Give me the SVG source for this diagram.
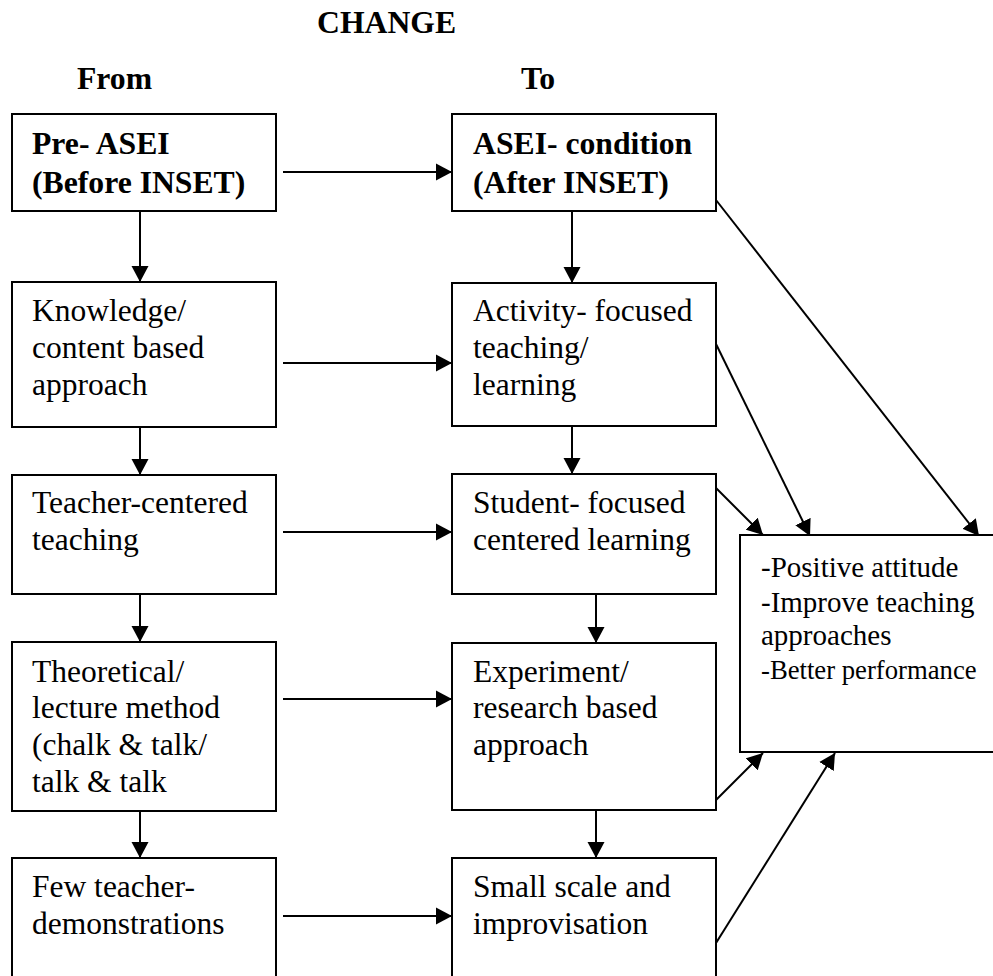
<svg xmlns="http://www.w3.org/2000/svg" width="993" height="976" viewBox="0 0 993 976" font-family="Liberation Serif, serif">
<defs>
<marker id="ah" markerUnits="userSpaceOnUse" markerWidth="17" markerHeight="18" refX="16" refY="9" orient="auto">
<path d="M0,0.5 L16,9 L0,17.5 Z" fill="#000"/>
</marker>
<style>
.box{fill:#fff;stroke:#000;stroke-width:2}
text{font-size:31.5px;fill:#000}
.b{font-weight:bold;font-size:31.7px}
.r{font-size:29px}
.s{font-size:26.7px}
.c line{stroke:#000;stroke-width:2;marker-end:url(#ah)}
</style>
</defs>
<rect width="993" height="976" fill="#fff"/>
<g id="headings" font-family="Liberation Serif">
<text class="b" x="317" y="33">CHANGE</text>
<text class="b" x="77" y="89">From</text>
<text class="b" x="521" y="89">To</text>
</g>
<g id="connectors" class="c">
<line x1="283" y1="172" x2="452" y2="172"/>
<line x1="283" y1="363" x2="452" y2="363"/>
<line x1="283" y1="532" x2="452" y2="532"/>
<line x1="283" y1="699" x2="452" y2="699"/>
<line x1="283" y1="916" x2="452" y2="916"/>
<line x1="140" y1="211" x2="140" y2="282"/>
<line x1="140" y1="427" x2="140" y2="475"/>
<line x1="140" y1="594" x2="140" y2="642"/>
<line x1="140" y1="811" x2="140" y2="858"/>
<line x1="572" y1="211" x2="572" y2="283"/>
<line x1="572" y1="426" x2="572" y2="474"/>
<line x1="596" y1="594" x2="596" y2="643"/>
<line x1="596" y1="810" x2="596" y2="858"/>
<line x1="716" y1="200" x2="979" y2="536"/>
<line x1="716" y1="344" x2="810" y2="536"/>
<line x1="716" y1="488" x2="763" y2="535"/>
<line x1="716" y1="800" x2="763" y2="753"/>
<line x1="716" y1="943" x2="835" y2="753"/>
</g>
<g id="pre-asei" font-family="Liberation Serif">
<rect class="box" x="12" y="114" width="264" height="97"/>
<text class="b" x="32" y="154">Pre- ASEI</text>
<text class="b" x="32" y="193">(Before INSET)</text>
</g>
<g id="knowledge" font-family="Liberation Serif">
<rect class="box" x="12" y="282" width="264" height="145"/>
<text x="32" y="321">Knowledge/</text>
<text x="32" y="358">content based</text>
<text x="32" y="395">approach</text>
</g>
<g id="teacher-centered" font-family="Liberation Serif">
<rect class="box" x="12" y="475" width="264" height="119"/>
<text x="32" y="513">Teacher-centered</text>
<text x="32" y="550">teaching</text>
</g>
<g id="theoretical" font-family="Liberation Serif">
<rect class="box" x="12" y="642" width="264" height="169"/>
<text x="32" y="682">Theoretical/</text>
<text x="32" y="718">lecture method</text>
<text x="32" y="755">(chalk &amp; talk/</text>
<text x="32" y="792">talk &amp; talk</text>
</g>
<g id="few-demos" font-family="Liberation Serif">
<rect class="box" x="12" y="858" width="264" height="140"/>
<text x="32" y="897">Few teacher-</text>
<text x="32" y="934">demonstrations</text>
</g>
<g id="asei-condition" font-family="Liberation Serif">
<rect class="box" x="452" y="114" width="264" height="97"/>
<text class="b" x="473" y="154">ASEI- condition</text>
<text class="b" x="473" y="193">(After INSET)</text>
</g>
<g id="activity" font-family="Liberation Serif">
<rect class="box" x="452" y="283" width="264" height="143"/>
<text x="473" y="321">Activity- focused</text>
<text x="473" y="358">teaching/</text>
<text x="473" y="395">learning</text>
</g>
<g id="student" font-family="Liberation Serif">
<rect class="box" x="452" y="474" width="264" height="120"/>
<text x="473" y="513">Student- focused</text>
<text x="473" y="550">centered learning</text>
</g>
<g id="experiment" font-family="Liberation Serif">
<rect class="box" x="452" y="643" width="264" height="167"/>
<text x="473" y="682">Experiment/</text>
<text x="473" y="718">research based</text>
<text x="473" y="755">approach</text>
</g>
<g id="small-scale" font-family="Liberation Serif">
<rect class="box" x="452" y="858" width="264" height="140"/>
<text x="473" y="897">Small scale and</text>
<text x="473" y="934">improvisation</text>
</g>
<g id="outcomes" font-family="Liberation Serif">
<rect class="box" x="740" y="535" width="280" height="217"/>
<text class="r" x="761" y="577">-Positive attitude</text>
<text class="r" x="761" y="612">-Improve teaching</text>
<text class="r" x="761" y="645">approaches</text>
<text class="s" x="761" y="679">-Better performance</text>
</g>
</svg>
